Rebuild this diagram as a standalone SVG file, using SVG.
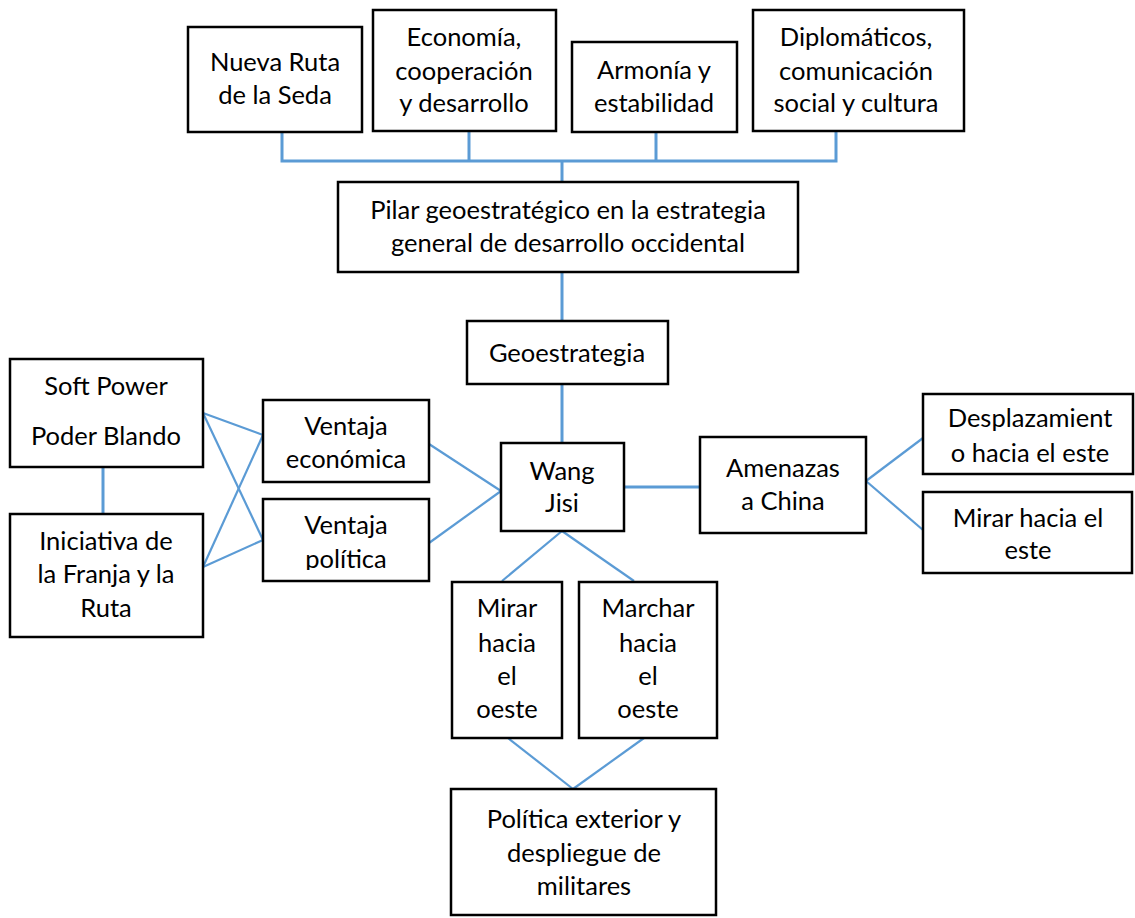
<svg xmlns="http://www.w3.org/2000/svg" width="1135" height="918" viewBox="0 0 1135 918">
<style>
.box{fill:#fff;stroke:#000;stroke-width:2.5}
.t{font-family:Lato,"Liberation Sans",sans-serif;font-size:25.5px;fill:#000;text-anchor:middle}
.c{stroke:#5B9BD5;stroke-width:3;fill:none}
.d{stroke:#5B9BD5;stroke-width:2.2;fill:none}
</style>
<defs>
<clipPath id="clipPol"><rect x="263" y="499" width="166" height="71"/></clipPath>
</defs>
<rect width="1135" height="918" fill="#fff"/>
<g id="connectors">
<polyline class="c" points="282,132 282,161 836,161 836,132"/>
<line class="c" x1="469" y1="132" x2="469" y2="161"/>
<line class="c" x1="656" y1="132" x2="656" y2="161"/>
<line class="c" x1="562" y1="161" x2="562" y2="182"/>
<line class="c" x1="562" y1="272" x2="562" y2="321"/>
<line class="c" x1="562" y1="384" x2="562" y2="443"/>
<line class="c" x1="624" y1="487" x2="700" y2="487"/>
<line class="c" x1="103" y1="467" x2="103" y2="514"/>
<line class="d" x1="203" y1="413" x2="263" y2="435"/>
<line class="d" x1="203" y1="413" x2="263" y2="540"/>
<line class="d" x1="203" y1="567" x2="263" y2="435"/>
<line class="d" x1="203" y1="567" x2="263" y2="540"/>
<line class="d" x1="429" y1="444" x2="501" y2="491"/>
<line class="d" x1="429" y1="543" x2="501" y2="491"/>
<line class="d" x1="866" y1="481" x2="923" y2="438"/>
<line class="d" x1="866" y1="481" x2="923" y2="530"/>
<line class="d" x1="562" y1="531" x2="502" y2="581"/>
<line class="d" x1="562" y1="531" x2="634" y2="581"/>
<line class="d" x1="508" y1="738" x2="573" y2="789"/>
<line class="d" x1="644" y1="738" x2="573" y2="789"/>
</g>
<g id="nueva-ruta"><rect class="box" x="188" y="27" width="174" height="105"/>
<text class="t" x="275" y="71">Nueva Ruta</text><text class="t" x="275" y="104">de la Seda</text></g>
<g id="economia"><rect class="box" x="373" y="10" width="183" height="121"/>
<text class="t" x="464" y="46">Economía,</text><text class="t" x="464" y="80">cooperación</text><text class="t" x="464" y="112">y desarrollo</text></g>
<g id="armonia"><rect class="box" x="572" y="42" width="165" height="90"/>
<text class="t" x="654" y="79">Armonía y</text><text class="t" x="654" y="112">estabilidad</text></g>
<g id="diplomaticos"><rect class="box" x="753" y="10" width="211" height="121"/>
<text class="t" x="856" y="46">Diplomáticos,</text><text class="t" x="856" y="80">comunicación</text><text class="t" x="856" y="112">social y cultura</text></g>
<g id="pilar"><rect class="box" x="338" y="182" width="460" height="90"/>
<text class="t" x="568" y="219">Pilar geoestratégico en la estrategia</text><text class="t" x="568" y="252">general de desarrollo occidental</text></g>
<g id="geoestrategia"><rect class="box" x="467" y="321" width="201" height="63"/>
<text class="t" x="567" y="362">Geoestrategia</text></g>
<g id="soft-power"><rect class="box" x="10" y="359" width="193" height="108"/>
<text class="t" x="106" y="395">Soft Power</text><text class="t" x="106" y="445">Poder Blando</text></g>
<g id="iniciativa"><rect class="box" x="10" y="514" width="193" height="123"/>
<text class="t" x="106" y="550">Iniciativa de</text><text class="t" x="106" y="583">la Franja y la</text><text class="t" x="106" y="617">Ruta</text></g>
<g id="ventaja-economica"><rect class="box" x="263" y="400" width="166" height="82"/>
<text class="t" x="346" y="435">Ventaja</text><text class="t" x="346" y="468">económica</text></g>
<g id="ventaja-politica"><rect class="box" x="263" y="499" width="166" height="82"/>
<text class="t" x="346" y="534">Ventaja</text><text class="t" x="346" y="568" clip-path="url(#clipPol)">política</text></g>
<g id="wang-jisi"><rect class="box" x="501" y="443" width="123" height="88"/>
<text class="t" x="562" y="480">Wang</text><text class="t" x="562" y="512">Jisi</text></g>
<g id="amenazas"><rect class="box" x="700" y="437" width="166" height="96"/>
<text class="t" x="783" y="477">Amenazas</text><text class="t" x="783" y="510">a China</text></g>
<g id="desplazamiento"><rect class="box" x="923" y="394" width="210" height="80"/>
<text class="t" x="1030" y="427">Desplazamient</text><text class="t" x="1030" y="462">o hacia el este</text></g>
<g id="mirar-este"><rect class="box" x="923" y="492" width="209" height="81"/>
<text class="t" x="1028" y="527">Mirar hacia el</text><text class="t" x="1028" y="559">este</text></g>
<g id="mirar-oeste"><rect class="box" x="452" y="582" width="110" height="156"/>
<text class="t" x="507" y="617">Mirar</text><text class="t" x="507" y="652">hacia</text><text class="t" x="507" y="685">el</text><text class="t" x="507" y="718">oeste</text></g>
<g id="marchar-oeste"><rect class="box" x="579" y="582" width="138" height="156"/>
<text class="t" x="648" y="617">Marchar</text><text class="t" x="648" y="652">hacia</text><text class="t" x="648" y="685">el</text><text class="t" x="648" y="718">oeste</text></g>
<g id="politica-exterior"><rect class="box" x="451" y="789" width="265" height="126"/>
<text class="t" x="584" y="828">Política exterior y</text><text class="t" x="584" y="862">despliegue de</text><text class="t" x="584" y="895">militares</text></g>
</svg>
